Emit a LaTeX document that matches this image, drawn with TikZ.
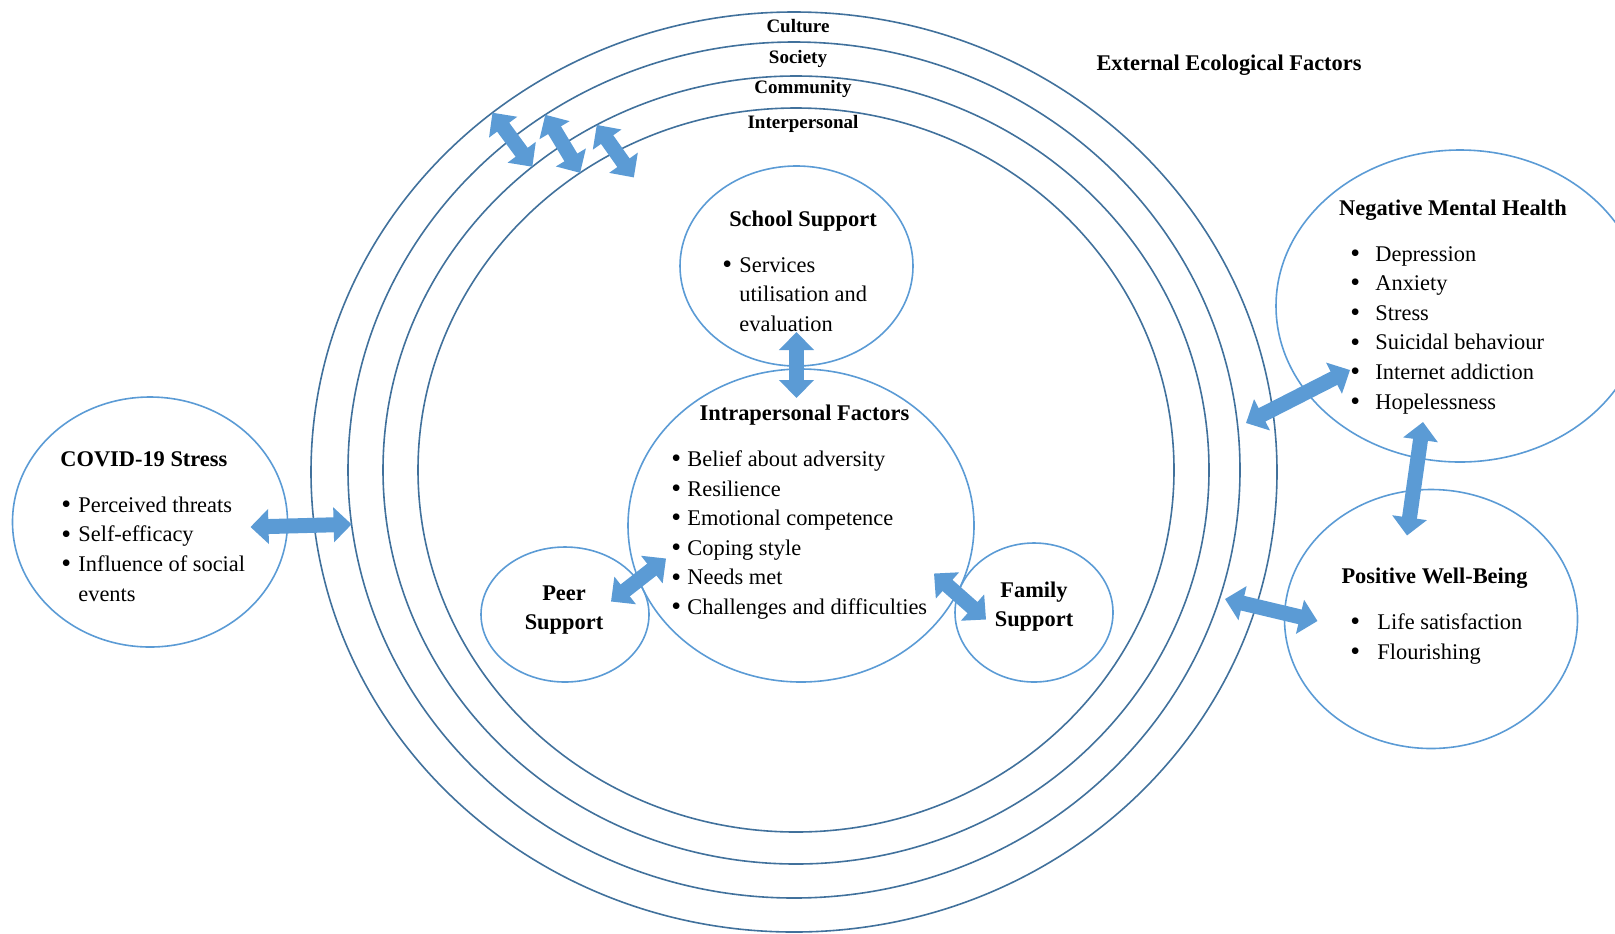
\documentclass[tikz,border=0pt]{standalone}
\usepackage{tikz}
\usetikzlibrary{arrows.meta,shapes.geometric,calc}
\usepackage{fontspec}
\setmainfont{Liberation Serif}
\definecolor{ringblue}{RGB}{65,113,156}
\definecolor{nodeblue}{RGB}{91,155,213}
\tikzstyle{ring} = [ellipse, draw=ringblue, line width=0.8pt, inner sep=0pt, outer sep=0pt]
\tikzstyle{bubble} = [ellipse, draw=nodeblue, line width=0.8pt, inner sep=0pt, outer sep=0pt]
\tikzstyle{biarrow} = [draw=nodeblue, line width=7.5pt, arrows={Triangle[width=17pt,length=9pt]-Triangle[width=17pt,length=9pt]}]
\tikzstyle{head} = [font=\fontsize{11.2}{14.4}\selectfont\bfseries, inner sep=0pt, align=center]
\tikzstyle{body} = [font=\fontsize{11.2}{14.8}\selectfont, inner sep=0pt, align=left, anchor=west]
\tikzstyle{ringlabel} = [font=\fontsize{9.5}{11}\selectfont\bfseries, inner sep=0pt]
\newcommand{\bul}[1][8.5pt]{\makebox[#1][l]{\raisebox{-0.6pt}{\fontsize{14}{14}\selectfont\textbullet}}}

\begin{document}
\begin{tikzpicture}[x=0.5pt, y=-0.5pt]
            \useasboundingbox (0,0) rectangle (1615,933);
            \clip (0,0) rectangle (1615,933);

            % ecological rings
            \node[ring, minimum width=483pt, minimum height=460pt] (Culture) at (794,472) {};
            \node[ring, minimum width=446pt, minimum height=428pt] (Society) at (794,470) {};
            \node[ring, minimum width=413pt, minimum height=394pt] (Community) at (796,470) {};
            \node[ring, minimum width=378pt, minimum height=362pt] (Interp) at (796,470) {};

            \node[ringlabel] (CultureLbl) at (798,26) {Culture};
            \node[ringlabel] (SocietyLbl) at (798,59) {Society};
            \node[ringlabel] (CommunityLbl) at (803,89) {Community};
            \node[ringlabel] (InterpLbl) at (803,124) {Interpersonal};
            \node[head] (External) at (1229,65) {External Ecological Factors};

            % inner circles
            \node[bubble, minimum width=116.5pt, minimum height=100pt] (School) at (796.5,266) {};
            \node[bubble, minimum width=173pt, minimum height=156.5pt] (Intra) at (801,525.5) {};
            \node[bubble, minimum width=84pt, minimum height=67.5pt] (Peer) at (565,614.5) {};
            \node[bubble, minimum width=79pt, minimum height=69.5pt] (Family) at (1034,612.5) {};

            \draw (School) ++(6.5,-45) node[head] (SchoolHead) {School Support};
            \node[body] (SchoolList) at ($(School) + (-74.5,28.5)$)
                {\bul Services\\ \hspace*{8.5pt}utilisation and\\ \hspace*{8.5pt}evaluation};
            \draw (Intra) ++(3.5,-110) node[head] (IntraHead) {Intrapersonal Factors};
            \node[body] (IntraList) at ($(Intra) + (-130,9.5)$)
                {\bul[8pt]Belief about adversity\\ \bul[8pt]Resilience\\ \bul[8pt]Emotional competence\\
                 \bul[8pt]Coping style\\ \bul[8pt]Needs met\\ \bul[8pt]Challenges and difficulties};
            \draw (Peer) ++(-1,-4.5) node[head] (PeerText) {Peer\\Support};
            \draw (Family) ++(0,-6) node[head] (FamilyText) {Family\\Support};

            % outer circles
            \node[bubble, minimum width=137.5pt, minimum height=125pt] (Covid) at (150,522) {};
            \node[bubble, minimum width=184pt, minimum height=156pt] (NegMH) at (1460,306) {};
            \node[bubble, minimum width=146.5pt, minimum height=129.5pt] (PosWB) at (1431,619) {};

            \node[head, anchor=west] (CovidHead) at ($(Covid) + (-90,-63)$) {COVID-19 Stress};
            \node[body] (CovidList) at ($(Covid) + (-89,27)$)
                {\bul Perceived threats\\ \bul Self-efficacy\\ \bul Influence of social\\ \hspace*{8.5pt}events};
            \draw (NegMH) ++(-7,-96) node[head] (NegHead) {Negative Mental Health};
            \node[body] (NegList) at ($(NegMH) + (-110,24)$)
                {\bul[12.5pt]Depression\\ \bul[12.5pt]Anxiety\\ \bul[12.5pt]Stress\\
                 \bul[12.5pt]Suicidal behaviour\\ \bul[12.5pt]Internet addiction\\ \bul[12.5pt]Hopelessness};
            \draw (PosWB) ++(3.5,-41) node[head] (PosHead) {Positive Well-Being};
            \node[body] (PosList) at ($(PosWB) + (-81,20)$)
                {\bul[13.5pt]Life satisfaction\\ \bul[13.5pt]Flourishing};

            % double arrows
            \draw[biarrow] ($(Covid.east) + (-37,5)$) -- (Society.187);
            \draw[biarrow] (Culture.130) -- (Community.131);
            \draw[biarrow] (Society.125.5) -- (Interp.126);
            \draw[biarrow] (Community.120) -- ($(Interp.center)!0.915!(Interp.119)$);
            \draw[biarrow] ($(School.south) + (0,-34)$) -- ($(School.south |- Intra.north) + (0,29)$);
            \draw[biarrow] ($(Peer.east) + (-38,-13)$) -- ($(Intra.west) + (38,33)$);
            \draw[biarrow] ($(Intra.east) + (-40,48)$) -- ($(Family.west) + (31,7)$);
            \draw[biarrow] ($(Culture.east) + (-31,-49)$) -- ($(NegMH.west) + (74,64)$);
            \draw[biarrow] ($(NegMH.south) + (-37,-40)$) -- ($(PosWB.north) + (-24,46)$);
            \draw[biarrow] ($(Culture.east) + (-52,127)$) -- ($(PosWB.west) + (33,2)$);

        \end{tikzpicture}
\end{document}
